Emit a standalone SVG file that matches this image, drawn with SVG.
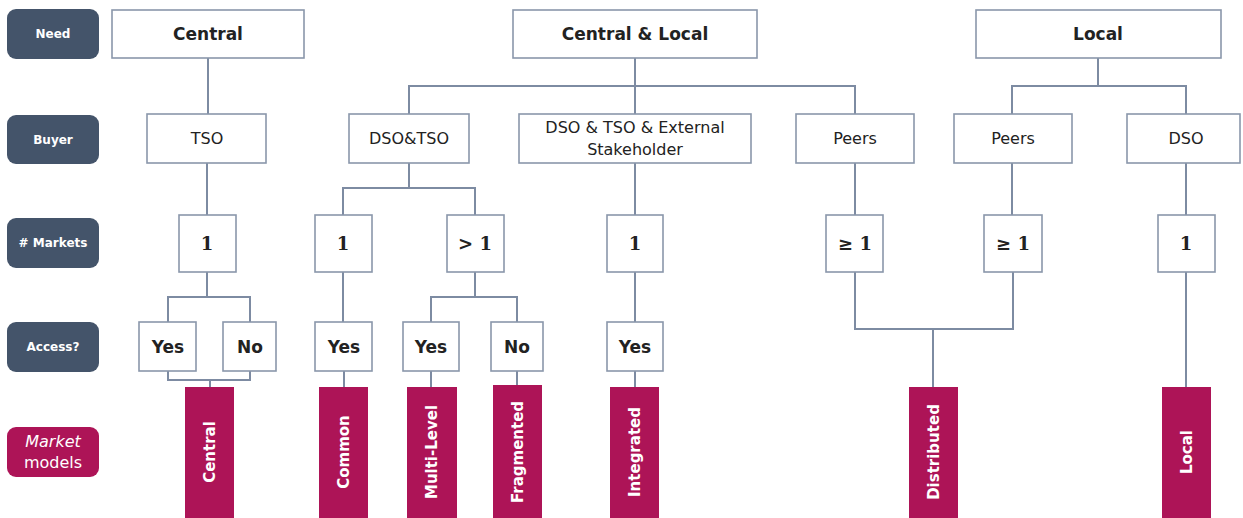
<svg xmlns="http://www.w3.org/2000/svg" width="1243" height="518" viewBox="0 0 1243 518">
<style>
.bg{fill:#fff}
.lbl{fill:#44546a}
.mlbl{fill:#ad1457}
.lt{font-family:"DejaVu Sans",Verdana,sans-serif;font-size:12px;font-weight:bold;fill:#fff;text-anchor:middle}
.mt{font-family:"DejaVu Sans",Verdana,sans-serif;font-size:16px;fill:#fff;text-anchor:middle}
.box{fill:#fff;stroke:#8a97ab;stroke-width:1.6}
.need{font-family:"DejaVu Sans",Verdana,sans-serif;font-size:17px;font-weight:bold;fill:#222;text-anchor:middle}
.buy{font-family:"DejaVu Sans",Verdana,sans-serif;font-size:16px;fill:#222;text-anchor:middle}
.num{font-family:"DejaVu Serif","Liberation Serif",serif;font-size:18px;font-weight:bold;fill:#222;text-anchor:middle}
.acc{font-family:"DejaVu Sans",Verdana,sans-serif;font-size:17px;font-weight:bold;fill:#222;text-anchor:middle}
.mod{fill:#ad1457}
.modt{font-family:"DejaVu Sans",Verdana,sans-serif;font-size:15px;font-weight:bold;fill:#fff;text-anchor:middle}
.con{fill:none;stroke:#7d8ba2;stroke-width:2}
</style>
<rect class="bg" x="0" y="0" width="1243" height="518"/>

<g id="row-labels">
  <g id="lbl-need"><rect class="lbl" x="7" y="9" width="92" height="50" rx="9"/><text class="lt" x="53" y="38">Need</text></g>
  <g id="lbl-buyer"><rect class="lbl" x="7" y="115" width="92" height="49" rx="9"/><text class="lt" x="53" y="144">Buyer</text></g>
  <g id="lbl-markets"><rect class="lbl" x="7" y="218" width="92" height="50" rx="9"/><text class="lt" x="53" y="247">#  Markets</text></g>
  <g id="lbl-access"><rect class="lbl" x="7" y="322" width="92" height="50" rx="9"/><text class="lt" x="53" y="351">Access?</text></g>
  <g id="lbl-models"><rect class="mlbl" x="7" y="427" width="92" height="50" rx="9"/><text class="mt" x="53" y="447" font-style="italic">Market</text><text class="mt" x="53" y="468">models</text></g>
</g>

<g id="connectors">
  <path class="con" d="M208,58 V114"/>
  <path class="con" d="M207,163 V215"/>
  <path class="con" d="M635,58 V114 M409,114 V86 H855 V114"/>
  <path class="con" d="M409,163 V188 M343,215 V188 H475 V215"/>
  <path class="con" d="M635,163 V215"/>
  <path class="con" d="M855,163 V215"/>
  <path class="con" d="M1098,58 V86 M1012,114 V86 H1186 V114"/>
  <path class="con" d="M1012,163 V215"/>
  <path class="con" d="M1186,163 V215"/>
  <path class="con" d="M207,272 V297 M168,322 V297 H250 V322"/>
  <path class="con" d="M343,272 V322"/>
  <path class="con" d="M475,272 V297 M431,322 V297 H517 V322"/>
  <path class="con" d="M635,272 V322"/>
  <path class="con" d="M855,272 V329 H1013 V272 M933,329 V387"/>
  <path class="con" d="M1186,272 V387"/>
  <path class="con" d="M168,371 V380 H250 V371 M210,380 V387"/>
  <path class="con" d="M344,371 V387"/>
  <path class="con" d="M431,371 V387"/>
  <path class="con" d="M517,371 V385"/>
  <path class="con" d="M635,371 V387"/>
</g>

<g id="need-central"><rect class="box" x="112" y="10" width="192" height="48"/><text class="need" x="208" y="40">Central</text></g>
<g id="need-central-local"><rect class="box" x="513" y="10" width="244" height="48"/><text class="need" x="635" y="40">Central &amp; Local</text></g>
<g id="need-local"><rect class="box" x="976" y="10" width="245" height="48"/><text class="need" x="1098" y="40">Local</text></g>

<g id="buyer-tso"><rect class="box" x="147" y="114" width="119" height="49"/><text class="buy" x="207" y="144">TSO</text></g>
<g id="buyer-dsotso"><rect class="box" x="349" y="114" width="120" height="49"/><text class="buy" x="409" y="144">DSO&amp;TSO</text></g>
<g id="buyer-ext"><rect class="box" x="519" y="114" width="232" height="49"/><text class="buy" x="635" y="133">DSO &amp; TSO &amp; External</text><text class="buy" x="635" y="155">Stakeholder</text></g>
<g id="buyer-peers1"><rect class="box" x="796" y="114" width="118" height="49"/><text class="buy" x="855" y="144">Peers</text></g>
<g id="buyer-peers2"><rect class="box" x="954" y="114" width="118" height="49"/><text class="buy" x="1013" y="144">Peers</text></g>
<g id="buyer-dso"><rect class="box" x="1127" y="114" width="113" height="49"/><text class="buy" x="1186" y="144">DSO</text></g>

<g id="mk-tso"><rect class="box" x="179" y="215" width="57" height="57"/><text class="num" x="207" y="250">1</text></g>
<g id="mk-common"><rect class="box" x="315" y="215" width="57" height="57"/><text class="num" x="343" y="250">1</text></g>
<g id="mk-gt1"><rect class="box" x="447" y="215" width="57" height="57"/><text class="num" x="475" y="250">&gt; 1</text></g>
<g id="mk-integrated"><rect class="box" x="607" y="215" width="56" height="57"/><text class="num" x="635" y="250">1</text></g>
<g id="mk-ge1a"><rect class="box" x="826" y="215" width="57" height="57"/><text class="num" x="855" y="250">≥ 1</text></g>
<g id="mk-ge1b"><rect class="box" x="984" y="215" width="58" height="57"/><text class="num" x="1013" y="250">≥ 1</text></g>
<g id="mk-dso"><rect class="box" x="1158" y="215" width="57" height="57"/><text class="num" x="1186" y="250">1</text></g>

<g id="acc-tso-yes"><rect class="box" x="139" y="322" width="57" height="49"/><text class="acc" x="168" y="353">Yes</text></g>
<g id="acc-tso-no"><rect class="box" x="223" y="322" width="53" height="49"/><text class="acc" x="250" y="353">No</text></g>
<g id="acc-common-yes"><rect class="box" x="315" y="322" width="57" height="49"/><text class="acc" x="344" y="353">Yes</text></g>
<g id="acc-ml-yes"><rect class="box" x="403" y="322" width="56" height="49"/><text class="acc" x="431" y="353">Yes</text></g>
<g id="acc-ml-no"><rect class="box" x="491" y="322" width="52" height="49"/><text class="acc" x="517" y="353">No</text></g>
<g id="acc-int-yes"><rect class="box" x="607" y="322" width="56" height="49"/><text class="acc" x="635" y="353">Yes</text></g>

<g id="model-central"><rect class="mod" x="185" y="387" width="49" height="131"/><text class="modt" transform="translate(215,452) rotate(-90)">Central</text></g>
<g id="model-common"><rect class="mod" x="319" y="387" width="49" height="131"/><text class="modt" transform="translate(349,452) rotate(-90)">Common</text></g>
<g id="model-multilevel"><rect class="mod" x="407" y="387" width="50" height="131"/><text class="modt" transform="translate(437,452) rotate(-90)">Multi-Level</text></g>
<g id="model-fragmented"><rect class="mod" x="493" y="385" width="49" height="133"/><text class="modt" transform="translate(523,452) rotate(-90)">Fragmented</text></g>
<g id="model-integrated"><rect class="mod" x="610" y="387" width="49" height="131"/><text class="modt" transform="translate(640,452) rotate(-90)">Integrated</text></g>
<g id="model-distributed"><rect class="mod" x="909" y="387" width="49" height="131"/><text class="modt" transform="translate(939,452) rotate(-90)">Distributed</text></g>
<g id="model-local"><rect class="mod" x="1162" y="387" width="49" height="131"/><text class="modt" transform="translate(1192,452) rotate(-90)">Local</text></g>
</svg>
